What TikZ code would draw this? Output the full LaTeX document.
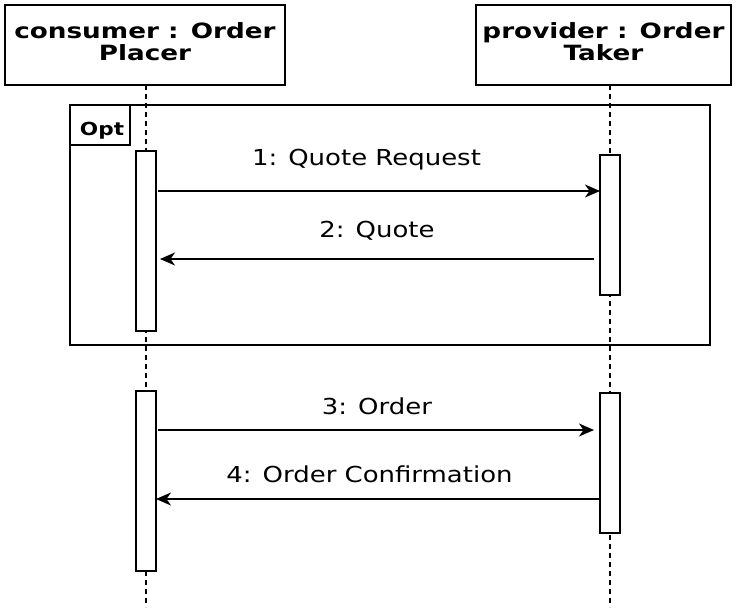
\documentclass[tikz,border=0pt]{standalone}
\usepackage{fontspec}
\setmainfont{DejaVu Sans}
\usetikzlibrary{arrows.meta}
% horizontally widened text
\newcommand\wtext[2]{\scalebox{#1}[1]{#2}}
\begin{document}
\begin{tikzpicture}[x=1pt,y=-1pt,
  line width=1.8pt,
  box/.style={draw,fill=white},
  head/.style={font=\bfseries\fontsize{21}{20.5}\selectfont,inner sep=0pt},
  lifeline/.style={line width=1.6pt,dash pattern=on 5pt off 4pt},
  act/.style={draw,fill=white},
  msg/.style={-{Stealth[length=15pt,width=13pt,inset=4.5pt]}},
  lbl/.style={font=\fontsize{22}{22}\selectfont,inner sep=0pt,anchor=base}]
\useasboundingbox (0,0) rectangle (740,609);
% lifelines
\coordinate (l1top) at (146,85);
\coordinate (l1bot) at (146,607);
\coordinate (l2top) at (610,85);
\coordinate (l2bot) at (610,607);
\draw[lifeline] (l1top) -- (l1bot);
\draw[lifeline] (l2top) -- (l2bot);
% participant boxes
\draw[box] (5,5) rectangle (285,85);
\node[head] (cons) at (145,45)
  {\wtext{1.25}{\begin{tabular}{@{}c@{}}consumer : Order\\Placer\end{tabular}}};
\draw[box] (476,5) rectangle (731,85);
\node[head] (prov) at (603.5,45)
  {\wtext{1.25}{\begin{tabular}{@{}c@{}}provider : Order\\Taker\end{tabular}}};
% optional fragment
\draw (70,105) rectangle (710,345);
\draw (70,145) -- (130,145) -- (130,105);
\node[font=\bfseries\fontsize{18}{18}\selectfont,inner sep=0pt,anchor=base] (opt) at (102,136) {\wtext{1.2}{Opt}};
% activations
\draw[act] (136,151) rectangle (156,331);
\draw[act] (600,155) rectangle (620,295);
\draw[act] (136,391) rectangle (156,571);
\draw[act] (600,393) rectangle (620,533);
\coordinate (m1s) at (158,191); \coordinate (m1e) at (600,191);
\coordinate (m2s) at (594,259); \coordinate (m2e) at (160,259);
\coordinate (m3s) at (158,430); \coordinate (m3e) at (594,430);
\coordinate (m4s) at (600,499); \coordinate (m4e) at (156,499);
\draw[msg] (m1s) -- (m1e);
\draw[msg] (m2s) -- (m2e);
\draw[msg] (m3s) -- (m3e);
\draw[msg] (m4s) -- (m4e);
\node[lbl] (t1) at (366.5,166) {\wtext{1.18}{1: Quote Request}};
\node[lbl] (t2) at (377,238) {\wtext{1.18}{2: Quote}};
\node[lbl] (t3) at (377,415) {\wtext{1.18}{3: Order}};
\node[lbl] (t4) at (369.5,483) {\wtext{1.18}{4: Order Confirmation}};
\end{tikzpicture}
\end{document}
